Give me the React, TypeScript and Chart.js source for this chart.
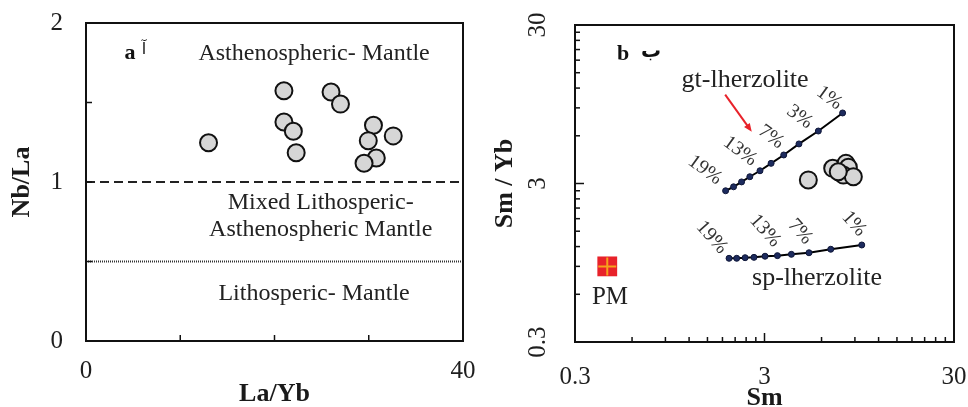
import React, { useEffect, useRef } from 'react';
import { Chart, registerables } from 'chart.js';

Chart.register(...registerables);

const SERIF = "'Liberation Serif', 'Times New Roman', serif";
Chart.defaults.font.family = SERIF;
Chart.defaults.color = '#1e1e1e';

// ---------- Panel a : Nb/La vs La/Yb ----------
const LA_YB = [13.0, 21.0, 21.0, 22.0, 22.3, 26.0, 27.0, 30.5, 29.95, 32.6, 30.8, 29.5];
const NB_LA = [1.247, 1.574, 1.377, 1.319, 1.184, 1.566, 1.49, 1.357, 1.26, 1.29, 1.151, 1.118];
const A_X_TICK_LABELS = [0, 40];
const A_Y_TICK_LABELS = [0, 1, 2];
const BOUNDARY_X = [0, 40];
const UPPER_BOUNDARY_Y = [1, 1];
const LOWER_BOUNDARY_Y = [0.5, 0.5];
const A_REGION_TEXT = ['Asthenospheric- Mantle', 'Mixed Lithosperic-', 'Asthenospheric Mantle', 'Lithosperic- Mantle'];
const A_REGION_X = [24.2, 24.9, 24.9, 24.2];
const A_REGION_Y = [1.81, 0.87, 0.70, 0.30];

// ---------- Panel b : Sm/Yb vs Sm ----------
const SAMPLE_SM = [5.11, 6.87, 8.07, 8.31, 7.82, 8.83, 7.35];
const SAMPLE_SMYB = [3.16, 3.74, 4.02, 3.8, 3.39, 3.31, 3.56];
const GT_SM = [1.87, 2.06, 2.27, 2.51, 2.84, 3.25, 3.79, 4.56, 5.77, 7.75];
const GT_SMYB = [2.7, 2.86, 3.07, 3.31, 3.61, 4.02, 4.54, 5.33, 6.43, 8.36];
const SP_SM = [1.95, 2.14, 2.37, 2.64, 3.02, 3.51, 4.16, 5.15, 6.71, 9.78];
const SP_SMYB = [1.012, 1.012, 1.021, 1.026, 1.043, 1.052, 1.072, 1.097, 1.154, 1.228];
const GT_PCT = ['19%', '13%', '7%', '3%', '1%'];
const GT_PCT_X = [1.456, 2.23, 3.25, 4.6, 6.6];
const GT_PCT_Y = [3.65, 4.8, 5.9, 7.9, 10.4];
const SP_PCT = ['19%', '13%', '7%', '1%'];
const SP_PCT_X = [1.58, 3.02, 4.62, 8.9];
const SP_PCT_Y = [1.37, 1.51, 1.49, 1.67];
const PM_SM = [0.444];
const PM_SMYB = [0.9];
const B_TICKS = [0.3, 0.6, 0.9, 1.2, 1.5, 1.8, 2.1, 2.4, 2.7, 3, 6, 9, 12, 15, 18, 21, 24, 27, 30];
const B_TICK_LABELS = [0.3, 3, 30];

const pts = (xs: number[], ys: number[]) => xs.map((x, i) => ({ x, y: ys[i] }));

type TextItem = { text: string; x: number; y: number; font: string; rot?: number; color?: string };
type Arrow = { x1: number; y1: number; x2: number; y2: number; color: string };

const decorPlugin = {
  id: 'decor',
  afterDraw(chart: any, _args: any, opts: any) {
    const ctx = chart.ctx as CanvasRenderingContext2D;
    const area = chart.chartArea;
    const xs = chart.scales.x;
    const ys = chart.scales.y;
    ctx.save();
    // inward tick marks
    ctx.strokeStyle = '#111';
    ctx.lineWidth = 1.5;
    const isMajor = (vals: number[], v: number) => vals.some((m) => Math.abs(m - v) < 1e-9 * Math.max(1, Math.abs(m)));
    xs.ticks.forEach((t: any) => {
      const p = xs.getPixelForValue(t.value);
      const len = isMajor(opts.majorX, t.value) ? opts.majorLen : opts.minorLen;
      ctx.beginPath();
      ctx.moveTo(p, area.bottom);
      ctx.lineTo(p, area.bottom - len);
      ctx.stroke();
    });
    ys.ticks.forEach((t: any) => {
      const p = ys.getPixelForValue(t.value);
      const len = isMajor(opts.majorY, t.value) ? opts.majorLen : opts.minorLen;
      ctx.beginPath();
      ctx.moveTo(area.left, p);
      ctx.lineTo(area.left + len, p);
      ctx.stroke();
    });
    // frame
    ctx.lineWidth = 2;
    ctx.strokeStyle = '#111';
    ctx.strokeRect(area.left, area.top, area.right - area.left, area.bottom - area.top);
    // texts in data coordinates
    (opts.texts as TextItem[]).forEach((t) => {
      const px = xs.getPixelForValue(t.x);
      const py = ys.getPixelForValue(t.y);
      ctx.save();
      ctx.translate(px, py);
      ctx.rotate(((t.rot || 0) * Math.PI) / 180);
      ctx.font = t.font;
      ctx.fillStyle = t.color || '#222';
      ctx.textAlign = 'center';
      ctx.textBaseline = 'middle';
      ctx.fillText(t.text, 0, 0);
      ctx.restore();
    });
    // arrows
    (opts.arrows as Arrow[]).forEach((a) => {
      const x1 = xs.getPixelForValue(a.x1);
      const y1 = ys.getPixelForValue(a.y1);
      const x2 = xs.getPixelForValue(a.x2);
      const y2 = ys.getPixelForValue(a.y2);
      const ang = Math.atan2(y2 - y1, x2 - x1);
      const head = 9;
      ctx.strokeStyle = a.color;
      ctx.fillStyle = a.color;
      ctx.lineWidth = 2;
      ctx.beginPath();
      ctx.moveTo(x1, y1);
      ctx.lineTo(x2 - Math.cos(ang) * head * 0.8, y2 - Math.sin(ang) * head * 0.8);
      ctx.stroke();
      ctx.beginPath();
      ctx.moveTo(x2, y2);
      ctx.lineTo(x2 - head * Math.cos(ang - 0.4), y2 - head * Math.sin(ang - 0.4));
      ctx.lineTo(x2 - head * Math.cos(ang + 0.4), y2 - head * Math.sin(ang + 0.4));
      ctx.closePath();
      ctx.fill();
    });
    // panel label
    const pl = opts.panel;
    ctx.fillStyle = '#111';
    ctx.textAlign = 'center';
    ctx.textBaseline = 'middle';
    ctx.font = `bold 22px ${SERIF}`;
    ctx.fillText(pl.latin, area.left + pl.dx, area.top + pl.dy);
    ctx.font = pl.arabicFont;
    ctx.fillText(pl.arabic, area.left + pl.adx, area.top + pl.ady);
    ctx.restore();
  },
};

function configA(): any {
  return {
    type: 'scatter',
    data: {
      datasets: [
        {
          data: pts(LA_YB, NB_LA),
          pointRadius: 8.5,
          pointBackgroundColor: '#d6d6d6',
          pointBorderColor: '#111',
          pointBorderWidth: 2,
        },
        {
          data: pts(BOUNDARY_X, UPPER_BOUNDARY_Y),
          showLine: true,
          borderColor: '#222',
          borderWidth: 2,
          borderDash: [9, 5],
          pointRadius: 0,
        },
        {
          data: pts(BOUNDARY_X, LOWER_BOUNDARY_Y),
          showLine: true,
          borderColor: '#333',
          borderWidth: 2,
          borderDash: [1, 1],
          pointRadius: 0,
        },
      ],
    },
    options: {
      responsive: false,
      devicePixelRatio: 1,
      animation: false,
      layout: { padding: { left: 0, top: 23, right: 17, bottom: 0 } },
      plugins: {
        legend: { display: false },
        tooltip: { enabled: false },
        decor: {
          majorX: A_X_TICK_LABELS,
          majorY: A_Y_TICK_LABELS,
          majorLen: 6,
          minorLen: 6,
          texts: A_REGION_TEXT.map((t, i) => ({ text: t, x: A_REGION_X[i], y: A_REGION_Y[i], font: `24px ${SERIF}` })),
          arrows: [],
          panel: { latin: 'a', arabic: 'آ', dx: 44, dy: 30, adx: 58, ady: 27, arabicFont: `16px 'DejaVu Sans'` },
        },
      },
      scales: {
        x: {
          type: 'linear',
          min: 0,
          max: 40,
          grid: { display: false, drawTicks: false },
          border: { display: false },
          ticks: {
            stepSize: 10,
            padding: 15,
            autoSkip: false,
            maxRotation: 0,
            font: { size: 25 },
            callback: (v: number) => (A_X_TICK_LABELS.includes(v) ? String(v) : ''),
          },
          title: { display: true, text: 'La/Yb', font: { size: 26, weight: 'bold', lineHeight: 1.1 }, padding: { top: 0, bottom: -2 }, color: '#1a1a1a' },
          afterFit: (s: any) => {
            s.height = 66;
            s.paddingLeft = 0;
            s.paddingRight = 0;
          },
        },
        y: {
          type: 'linear',
          min: 0,
          max: 2,
          grid: { display: false, drawTicks: false },
          border: { display: false },
          ticks: {
            stepSize: 0.5,
            padding: 23,
            autoSkip: false,
            font: { size: 25 },
            callback: (v: number) => (A_Y_TICK_LABELS.includes(v) ? String(v) : ''),
          },
          title: { display: true, text: 'Nb/La', font: { size: 26, weight: 'bold' }, padding: { top: 7, bottom: 0 }, color: '#1a1a1a' },
          afterFit: (s: any) => {
            s.width = 86;
            s.paddingTop = 0;
            s.paddingBottom = 0;
          },
        },
      },
    },
    plugins: [decorPlugin],
  };
}

function configB(): any {
  const texts: TextItem[] = [
    { text: 'gt-lherzolite', x: 2.37, y: 13.5, font: `26px ${SERIF}` },
    { text: 'sp-lherzolite', x: 5.68, y: 0.76, font: `26px ${SERIF}` },
    { text: 'PM', x: 0.459, y: 0.577, font: `25px ${SERIF}` },
    ...GT_PCT.map((t, i) => ({ text: t, x: GT_PCT_X[i], y: GT_PCT_Y[i], font: `20px ${SERIF}`, rot: 36, color: '#333' })),
    ...SP_PCT.map((t, i) => ({ text: t, x: SP_PCT_X[i], y: SP_PCT_Y[i], font: `20px ${SERIF}`, rot: 48, color: '#333' })),
  ];
  return {
    type: 'scatter',
    data: {
      datasets: [
        {
          data: pts(PM_SM, PM_SMYB),
          pointStyle: 'cross',
          pointRadius: 9,
          pointBorderColor: '#f6a21c',
          pointBorderWidth: 2,
        },
        {
          data: pts(PM_SM, PM_SMYB),
          pointStyle: 'rect',
          pointRadius: 14,
          pointBackgroundColor: '#e8222a',
          pointBorderWidth: 0,
        },
        {
          data: pts(SAMPLE_SM, SAMPLE_SMYB),
          pointRadius: 8.5,
          pointBackgroundColor: '#d6d6d6',
          pointBorderColor: '#111',
          pointBorderWidth: 2,
        },
        {
          data: pts(GT_SM, GT_SMYB),
          showLine: true,
          borderColor: '#000',
          borderWidth: 2,
          pointRadius: 3,
          pointBackgroundColor: '#1d2b5e',
          pointBorderColor: '#0e1638',
          pointBorderWidth: 1,
        },
        {
          data: pts(SP_SM, SP_SMYB),
          showLine: true,
          borderColor: '#000',
          borderWidth: 2,
          pointRadius: 3,
          pointBackgroundColor: '#1d2b5e',
          pointBorderColor: '#0e1638',
          pointBorderWidth: 1,
        },
      ],
    },
    options: {
      responsive: false,
      devicePixelRatio: 1,
      animation: false,
      layout: { padding: { left: 0, top: 25, right: 14, bottom: 0 } },
      plugins: {
        legend: { display: false },
        tooltip: { enabled: false },
        decor: {
          majorX: B_TICK_LABELS,
          majorY: B_TICK_LABELS,
          majorLen: 9,
          minorLen: 5,
          texts,
          arrows: [{ x1: 1.86, y1: 10.9, x2: 2.57, y2: 6.37, color: '#e8222a' }],
          panel: { latin: 'b', arabic: 'ب', dx: 48, dy: 29, adx: 76, ady: 27, arabicFont: `bold 20px 'DejaVu Sans'` },
        },
      },
      scales: {
        x: {
          type: 'logarithmic',
          min: 0.3,
          max: 30,
          grid: { display: false, drawTicks: false },
          border: { display: false },
          afterBuildTicks: (s: any) => {
            s.ticks = B_TICKS.map((v) => ({ value: v }));
          },
          ticks: {
            padding: 20,
            autoSkip: false,
            maxRotation: 0,
            font: { size: 25 },
            callback: (v: number) => (B_TICK_LABELS.includes(v) ? String(v) : ''),
          },
          title: { display: true, text: 'Sm', font: { size: 26, weight: 'bold', lineHeight: 1.0 }, padding: { top: 0, bottom: -4 }, color: '#1a1a1a' },
          afterFit: (s: any) => {
            s.height = 65;
            s.paddingLeft = 0;
            s.paddingRight = 0;
          },
        },
        y: {
          type: 'logarithmic',
          min: 0.3,
          max: 30,
          grid: { display: false, drawTicks: false },
          border: { display: false },
          afterBuildTicks: (s: any) => {
            s.ticks = B_TICKS.map((v) => ({ value: v }));
          },
          ticks: {
            padding: 21,
            autoSkip: false,
            minRotation: 90,
            maxRotation: 90,
            crossAlign: 'center',
            font: { size: 25 },
            callback: (v: number) => (B_TICK_LABELS.includes(v) ? String(v) : ''),
          },
          title: { display: true, text: 'Sm / Yb', font: { size: 26, weight: 'bold' }, padding: { top: 10, bottom: 0 }, color: '#1a1a1a' },
          afterFit: (s: any) => {
            s.width = 95;
            s.paddingTop = 0;
            s.paddingBottom = 0;
          },
        },
      },
    },
    plugins: [decorPlugin],
  };
}

export default function App() {
  const aRef = useRef<HTMLCanvasElement>(null);
  const bRef = useRef<HTMLCanvasElement>(null);
  useEffect(() => {
    document.body.style.margin = '0';
    const a = new Chart(aRef.current as HTMLCanvasElement, configA());
    const b = new Chart(bRef.current as HTMLCanvasElement, configB());
    return () => {
      a.destroy();
      b.destroy();
    };
  }, []);
  return (
    <div style={{ position: 'fixed', left: 0, top: 0, width: 968, height: 407, background: '#fff' }}>
      <canvas ref={aRef} width={480} height={407} style={{ position: 'absolute', left: 0, top: 0, width: 480, height: 407 }} />
      <canvas ref={bRef} width={488} height={407} style={{ position: 'absolute', left: 480, top: 0, width: 488, height: 407 }} />
    </div>
  );
}
